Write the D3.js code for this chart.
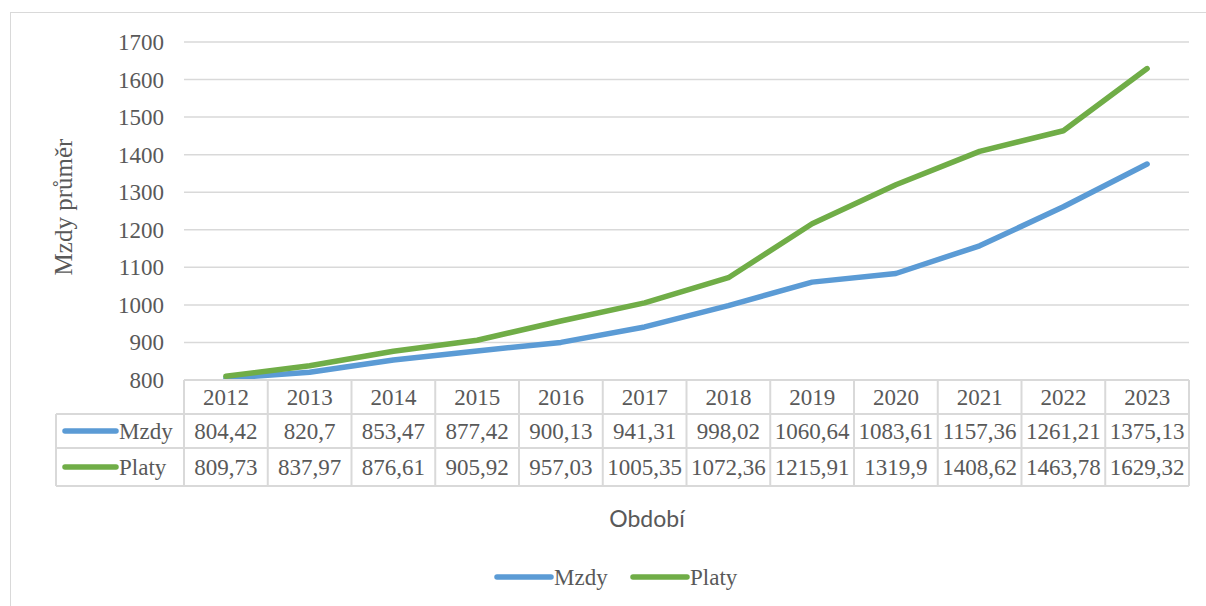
<!DOCTYPE html>
<meta charset="utf-8">
<script src="https://d3js.org/d3.v7.min.js"></script>
<style>
  body { margin: 0; background: #fff; }
  text { fill: #595959; }
</style>
<body>
<svg id="chart" width="1206" height="606"></svg>
<script>
  // data
  var years = ["2012","2013","2014","2015","2016","2017","2018","2019","2020","2021","2022","2023"];
  var mzdy  = [804.42, 820.7, 853.47, 877.42, 900.13, 941.31, 998.02, 1060.64, 1083.61, 1157.36, 1261.21, 1375.13];
  var platy = [809.73, 837.97, 876.61, 905.92, 957.03, 1005.35, 1072.36, 1215.91, 1319.9, 1408.62, 1463.78, 1629.32];
  var yTicks = [800, 900, 1000, 1100, 1200, 1300, 1400, 1500, 1600, 1700];

  var series = [
    { name: "Mzdy",  values: mzdy,  color: "#5B9BD5" },
    { name: "Platy", values: platy, color: "#70AD47" }
  ];

  var svg = d3.select("#chart");
  var serif = "'Liberation Serif', 'Times New Roman', serif";
  var fs = "23px";

  // outer chart border
  svg.append("rect")
    .attr("x", 10.5).attr("y", 12.5)
    .attr("width", 1200).attr("height", 600)
    .attr("fill", "none").attr("stroke", "#D9D9D9").attr("stroke-width", 1);

  var plotLeft = 184, plotRight = 1189, plotTop = 42, plotBottom = 380;

  var x = d3.scaleBand().domain(years).range([plotLeft, plotRight]);
  var y = d3.scaleLinear().domain([800, 1700]).range([plotBottom, plotTop]);

  // gridlines
  svg.append("g")
    .selectAll("line")
    .data(yTicks)
    .enter()
    .append("line")
    .attr("x1", plotLeft).attr("x2", plotRight)
    .attr("y1", function(d){ return y(d) })
    .attr("y2", function(d){ return y(d) })
    .attr("stroke", "#D9D9D9")
    .attr("stroke-width", 1.5);

  // y tick labels
  svg.append("g")
    .selectAll("text")
    .data(yTicks)
    .enter()
    .append("text")
    .attr("x", 164)
    .attr("y", function(d){ return y(d) + 8 })
    .attr("text-anchor", "end")
    .style("font-family", serif)
    .style("font-size", fs)
    .text(function(d){ return d });

  // y axis title
  svg.append("text")
    .attr("transform", "translate(72,207) rotate(-90)")
    .attr("text-anchor", "middle")
    .style("font-family", serif)
    .style("font-size", "25px")
    .text("Mzdy průměr");

  // lines
  var line = d3.line()
    .x(function(d, i){ return x(years[i]) + x.bandwidth() / 2 })
    .y(function(d){ return y(d) });

  svg.append("g")
    .selectAll("path")
    .data(series)
    .enter()
    .append("path")
    .attr("d", function(s){ return line(s.values) })
    .attr("fill", "none")
    .attr("stroke", function(s){ return s.color })
    .attr("stroke-width", 5.5)
    .attr("stroke-linecap", "round")
    .attr("stroke-linejoin", "round");

  // data table
  var rowY = [380, 414, 448, 486];
  var tableLeft = 56;
  var tg = svg.append("g");
  var gridCol = "#D9D9D9";

  // horizontal lines
  tg.append("line").attr("x1", plotLeft).attr("x2", plotRight).attr("y1", rowY[0]).attr("y2", rowY[0])
    .attr("stroke", gridCol).attr("stroke-width", 2);
  [1, 2, 3].forEach(function(i){
    tg.append("line").attr("x1", tableLeft).attr("x2", plotRight).attr("y1", rowY[i]).attr("y2", rowY[i])
      .attr("stroke", gridCol).attr("stroke-width", 2);
  });
  // vertical lines
  tg.append("line").attr("x1", tableLeft).attr("x2", tableLeft).attr("y1", rowY[1]).attr("y2", rowY[3])
    .attr("stroke", gridCol).attr("stroke-width", 2);
  tg.selectAll("line.v")
    .data(years.concat(["end"]))
    .enter()
    .append("line")
    .attr("class", "v")
    .attr("x1", function(d){ return d === "end" ? plotRight : x(d) })
    .attr("x2", function(d){ return d === "end" ? plotRight : x(d) })
    .attr("y1", rowY[0]).attr("y2", rowY[3])
    .attr("stroke", gridCol).attr("stroke-width", 2);

  // header years
  tg.selectAll("text.yr")
    .data(years)
    .enter()
    .append("text")
    .attr("class", "yr")
    .attr("x", function(d){ return x(d) + x.bandwidth() / 2 })
    .attr("y", 405)
    .attr("text-anchor", "middle")
    .style("font-family", serif)
    .style("font-size", fs)
    .text(function(d){ return d });

  function fmt(v){ return String(v).replace(".", ",") }

  series.forEach(function(s, si){
    var cy = (rowY[si + 1] + rowY[si + 2]) / 2;
    tg.append("line")
      .attr("x1", 65).attr("x2", 116)
      .attr("y1", cy).attr("y2", cy)
      .attr("stroke", s.color).attr("stroke-width", 5.5).attr("stroke-linecap", "round");
    tg.append("text")
      .attr("x", 119).attr("y", cy + 8)
      .style("font-family", serif).style("font-size", fs)
      .text(s.name);
    tg.selectAll("text.v" + si)
      .data(s.values)
      .enter()
      .append("text")
      .attr("x", function(d, i){ return x(years[i]) + x.bandwidth() / 2 })
      .attr("y", cy + 8)
      .attr("text-anchor", "middle")
      .style("font-family", serif)
      .style("font-size", fs)
      .text(function(d){ return fmt(d) });
  });

  // x axis title
  svg.append("text")
    .attr("x", 647).attr("y", 527)
    .attr("text-anchor", "middle")
    .style("font-family", "Lato, 'Open Sans', sans-serif")
    .style("font-size", "23px")
    .text("Období");

  // legend
  var legend = svg.append("g");
  var lx = [497, 633];
  series.forEach(function(s, i){
    legend.append("line")
      .attr("x1", lx[i]).attr("x2", lx[i] + 54)
      .attr("y1", 577).attr("y2", 577)
      .attr("stroke", s.color).attr("stroke-width", 5.5).attr("stroke-linecap", "round");
    legend.append("text")
      .attr("x", lx[i] + 57).attr("y", 585)
      .style("font-family", serif).style("font-size", fs)
      .text(s.name);
  });
</script>
</body>
